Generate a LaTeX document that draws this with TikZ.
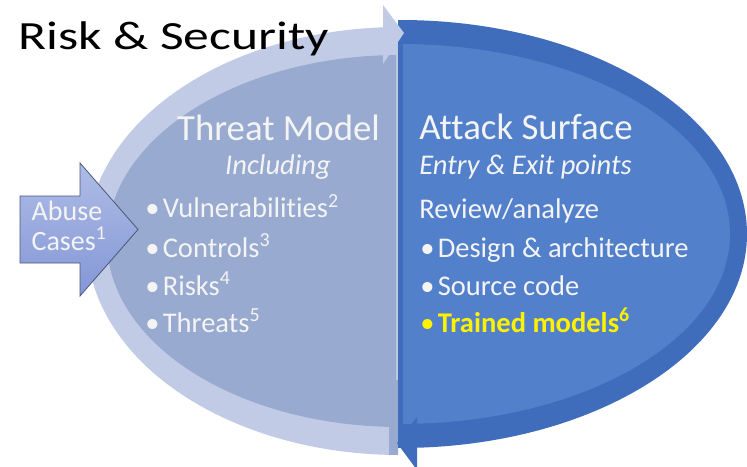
\documentclass[tikz,border=0pt]{standalone}
\usepackage{fontspec}
\setmainfont{Carlito}[RawFeature={-liga}]
\newfontfamily\titlefont[FakeStretch=1.29,RawFeature={-liga}]{Carlito}
\definecolor{lightring}{HTML}{C1CBE6}
\definecolor{midfill}{HTML}{98AACF}
\definecolor{darkring}{HTML}{3F6DBB}
\definecolor{bluefill}{HTML}{5280CB}
\definecolor{abusetop}{HTML}{AEBCE6}
\definecolor{abusebot}{HTML}{8497D6}
\definecolor{abuseline}{HTML}{4A5778}
\definecolor{txtwhite}{HTML}{F4F4F4}
\newcommand\blt{{\mdseries\textbullet}\hspace{2.5pt}}
\begin{document}
\begin{tikzpicture}[x=0.75pt,y=0.75pt,yscale=-1,
  txt/.style={inner sep=0pt, text=txtwhite},
  head/.style={txt, font=\fontsize{27.6}{33}\selectfont},
  body/.style={txt, font=\fontsize{21.4}{26}\selectfont, anchor=base west},
  sub/.style={txt, font=\fontsize{21.4}{26}\selectfont\itshape}]
\useasboundingbox (0,0) rectangle (747,467);
% left half (threat model)
\begin{scope}
  \clip (0,0) rectangle (398,467);
  \fill[lightring] (400,241) ellipse [x radius=313, y radius=214];
\end{scope}
\begin{scope}
  \clip (0,0) rectangle (396,467);
  \fill[midfill] (400,241) ellipse [x radius=293, y radius=186];
\end{scope}
\begin{scope}
  \clip (389,380) rectangle (398,467);
  \fill[midfill] (400,241) ellipse [x radius=313, y radius=214];
\end{scope}
% right half (attack surface)
\begin{scope}
  \clip (398,0) rectangle (747,467);
  \fill[darkring] (400,234) ellipse [x radius=347, y radius=214];
\end{scope}
\begin{scope}
  \clip (403,0) rectangle (747,467);
  \fill[bluefill] (400,234) ellipse [x radius=330, y radius=190];
\end{scope}
% arrow heads
\fill[lightring] (383,5) -- (404,33) -- (383,64) -- cycle;
\fill[darkring] (417,417) -- (397,443) -- (417,470) -- cycle;
% abuse cases arrow
\path[draw=abuseline, line width=0.6pt, top color=abusetop, bottom color=abusebot]
  (20,196) -- (80,196) -- (80,163) -- (138,229.5) -- (80,296) -- (80,263) -- (20,263) -- cycle;
\node[txt, font=\fontsize{21}{25}\selectfont, anchor=base] (abuse1) at (67,220) {Abuse};
\node[txt, font=\fontsize{21}{25}\selectfont, anchor=base] (abuse2) at (69,250) {Cases\textsuperscript{1}};
% title
\node[inner sep=0pt, anchor=base west, font=\titlefont\fontsize{30}{36}\selectfont, text=black] (title) at (18,49.5) {Risk \& Security};
% threat model text
\node[head, anchor=base] (tm) at (278.5,141) {Threat Model};
\node[sub, anchor=base] (incl) at (278,175) {Including};
\node[body] (v) at (145,218) {\blt Vulnerabilities\textsuperscript{2}};
\node[body] (c) at (145,257) {\blt Controls\textsuperscript{3}};
\node[body] (r) at (145,295) {\blt Risks\textsuperscript{4}};
\node[body] (t) at (145,332) {\blt Threats\textsuperscript{5}};
% attack surface text
\node[head, anchor=base west] (as) at (419,140) {Attack Surface};
\node[sub, anchor=base west] (ee) at (419,175) {Entry \& Exit points};
\node[body] (ra) at (419,219) {Review/analyze};
\node[body] (da) at (420,257) {\blt Design \& architecture};
\node[body] (sc) at (420,295) {\blt Source code};
\node[body, text=yellow, font=\fontsize{21.4}{26}\selectfont\bfseries] (tr) at (420,332) {\blt Trained models\textsuperscript{6}};
\end{tikzpicture}
\end{document}
